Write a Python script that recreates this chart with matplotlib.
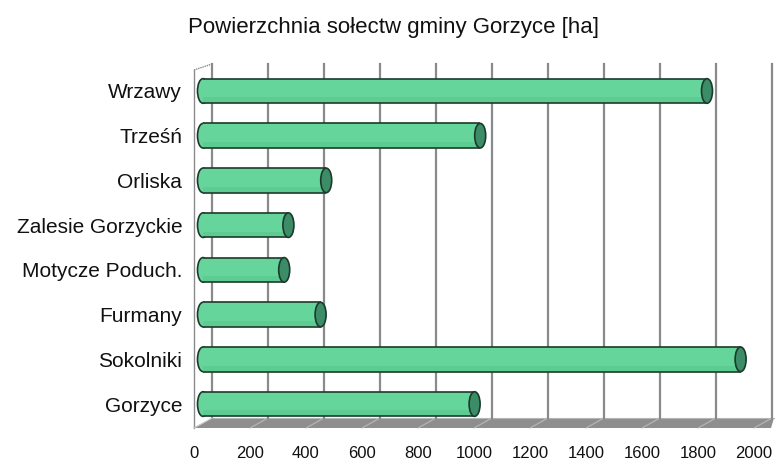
import matplotlib
matplotlib.use("Agg")
import matplotlib.pyplot as plt
import matplotlib.transforms as mtransforms
from matplotlib.patches import Ellipse, Polygon

plt.rcParams['font.family'] = ['Liberation Sans', 'DejaVu Sans']

# ---- data ----
categories = ["Wrzawy", "Trześń", "Orliska", "Zalesie Gorzyckie",
              "Motycze Poduch.", "Furmany", "Sokolniki", "Gorzyce"]
values = [1800, 990, 440, 305, 290, 420, 1920, 970]
xticks = [0, 200, 400, 600, 800, 1000, 1200, 1400, 1600, 1800, 2000]
xticklabels = [str(t) for t in xticks]
title = "Powierzchnia sołectw gminy Gorzyce [ha]"

W, H, DPI = 776, 459, 100
fig = plt.figure(figsize=(W / DPI, H / DPI), dpi=DPI)

# bar plane: x=0 -> 203 px, x=2000 -> 763 px
ax_left, ax_right = 203, 763
ax_top, ax_bot = 68.6, 426.4  # px from top
ax = fig.add_axes([ax_left / W, 1 - ax_bot / H,
                   (ax_right - ax_left) / W, (ax_bot - ax_top) / H])
ax.set_xlim(0, 2000)
ax.set_ylim(-0.5, len(categories) - 0.5)
ax.patch.set_alpha(0)
for s in ax.spines.values():
    s.set_visible(False)

k = (ax_right - ax_left) / 2000.0  # px per unit


def ya(ypx):
    return (ax_bot - ypx) / (ax_bot - ax_top)


def xd(px_off):
    return px_off / k


blend = mtransforms.blended_transform_factory(ax.transData, ax.transAxes)

# geometry offsets (px): back wall +9, front -9
back, front = 9, -9

# floor
floor = Polygon([(xd(front - 1), ya(428)), (xd(back), ya(418)),
                 (2000 + xd(back + 2), ya(418)), (2000 + xd(back - 1), ya(428))],
                closed=True, transform=blend, facecolor="#8e8e8e",
                edgecolor="none", clip_on=False, zorder=0.5)
ax.add_patch(floor)
ax.plot([xd(back), 2000 + xd(back + 2)], [ya(418.3), ya(418.3)], transform=blend,
        color="#b5b5b5", lw=0.8, clip_on=False, zorder=0.6)
for t in xticks[1:]:
    ax.plot([t + xd(front), t + xd(back)], [ya(428), ya(418)], transform=blend,
            color="#b8b8b8", lw=0.8, clip_on=False, zorder=0.7)

# back wall gridlines
for t in xticks:
    ax.plot([t + xd(back), t + xd(back)], [ya(418), ya(64)], transform=blend,
            color="#8a8a8a", lw=1.6, clip_on=False, zorder=1)

# left wall
ax.plot([xd(front), xd(front)], [ya(70), ya(428)], transform=blend,
        color="#8a8a8a", lw=1.0, clip_on=False, zorder=1)
ax.plot([xd(front), xd(back)], [ya(70), ya(64)], transform=blend,
        color="#8a8a8a", lw=1.0, clip_on=False, zorder=1, ls=(0, (1, 0.6)))
ax.plot([xd(front), xd(back)], [ya(428), ya(418)], transform=blend,
        color="#d0d0d0", lw=0.8, clip_on=False, zorder=1)

# cylinders
light = "#66D59C"
lower = "#5DCB92"
capc = "#3C8C67"
edge = "#1C3A2B"
h = 0.55
cap_w = xd(11)
n = len(categories)
for i, (c, v) in enumerate(zip(categories, values)):
    y = n - 1 - i
    ax.add_patch(Ellipse((0, y), cap_w, h, facecolor=light, edgecolor=edge,
                         lw=1.2, zorder=3, clip_on=False))
    ax.barh(y, v, height=h, left=0, color=light, lw=0, zorder=4)
    ax.barh(y - h * 0.36, v, height=h * 0.2, left=0, color=lower, lw=0,
            zorder=4.2)
    ax.plot([0, v], [y + h / 2, y + h / 2], color=edge, lw=1.2, zorder=5,
            solid_capstyle="butt")
    ax.plot([0, v], [y - h / 2, y - h / 2], color=edge, lw=1.2, zorder=5,
            solid_capstyle="butt")
    ax.add_patch(Ellipse((v, y), cap_w, h, facecolor=capc, edgecolor=edge,
                         lw=1.2, zorder=6, clip_on=False))

# category labels
ax.set_yticks(range(n))
ax.set_yticklabels(categories[::-1], fontsize=15, color="#111111")
ax.tick_params(axis="y", length=0, pad=15)

# x tick labels (front edge)
ax.set_xticks([])
for t, lab in zip(xticks, xticklabels):
    ax.text(t + xd(front), ya(453), lab, transform=blend, ha="center",
            va="center", fontsize=12, color="#111111", clip_on=False)

fig.text(394 / W, 1 - 28 / H, title, ha="center", va="center", fontsize=16,
         color="#111111")

fig.savefig("out.png", dpi=DPI)
